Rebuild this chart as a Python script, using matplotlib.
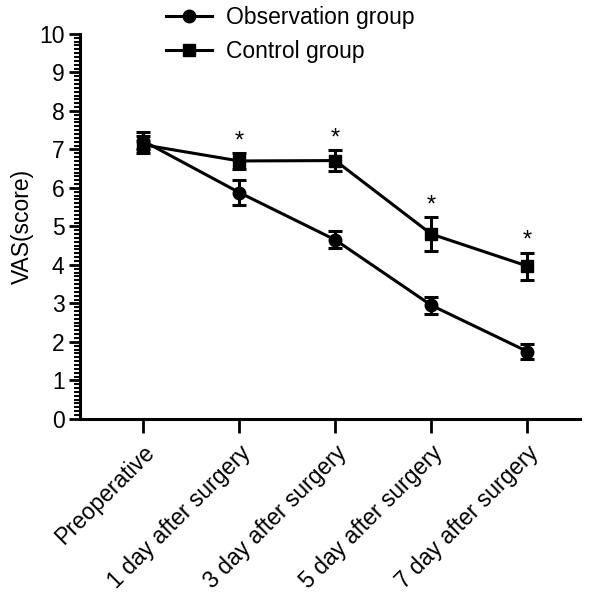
import matplotlib.pyplot as plt
from matplotlib.lines import Line2D
from matplotlib.ticker import MultipleLocator

plt.rcParams['font.family'] = ['Liberation Sans', 'DejaVu Sans']

# data
categories = ["Preoperative", "1 day after surgery", "3 day after surgery",
              "5 day after surgery", "7 day after surgery"]
obs_mean = [7.22, 5.88, 4.65, 2.95, 1.75]
obs_err = [0.22, 0.32, 0.22, 0.22, 0.2]
ctrl_mean = [7.12, 6.7, 6.71, 4.8, 3.97]
ctrl_err = [0.22, 0.2, 0.27, 0.44, 0.35]
significant = [False, True, True, True, True]

fig = plt.figure(figsize=(6, 5.95), dpi=100)
ax = fig.add_axes([0.133, 0.296, 0.834, 0.647])

x = list(range(len(categories)))
common = dict(color="black", lw=2.2, elinewidth=2.2, capsize=5, capthick=2.2, markersize=9)
ax.errorbar(x, obs_mean, yerr=obs_err, marker="o", **common)
ax.errorbar(x, ctrl_mean, yerr=ctrl_err, marker="s", **common)

# significance stars above control group error bars
for xi, m, e, s in zip(x, ctrl_mean, ctrl_err, significant):
    if s:
        ax.text(xi, m + e + 0.3, "*", ha="center", va="center", fontsize=17)

ax.set_xlim(-0.66, 4.55)
ax.set_ylim(0, 10)
ax.yaxis.set_major_locator(MultipleLocator(1))
ax.yaxis.set_minor_locator(MultipleLocator(0.1))
ax.set_xticks(x)
ax.set_xticklabels(categories, rotation=45, ha="right", rotation_mode="anchor", fontsize=16.5)
ax.tick_params(axis="y", which="major", length=8, width=2, labelsize=16.5, pad=3)
ax.tick_params(axis="y", which="minor", length=4, width=1.5)
ax.tick_params(axis="x", length=10, width=2, pad=6)
ax.set_ylabel("VAS(score)", fontsize=16.5, labelpad=4)

for side in ["top", "right"]:
    ax.spines[side].set_visible(False)
for side in ["left", "bottom"]:
    ax.spines[side].set_linewidth(2.2)

handles = [Line2D([], [], color="black", lw=2.2, marker="o", markersize=9),
           Line2D([], [], color="black", lw=2.2, marker="s", markersize=9)]
fig.legend(handles, ["Observation group", "Control group"], loc="upper left",
           bbox_to_anchor=(0.243, 1.025), frameon=False, fontsize=16.5,
           handlelength=2.0, handletextpad=0.6, labelspacing=0.5)

fig.savefig("out.png", dpi=100)
